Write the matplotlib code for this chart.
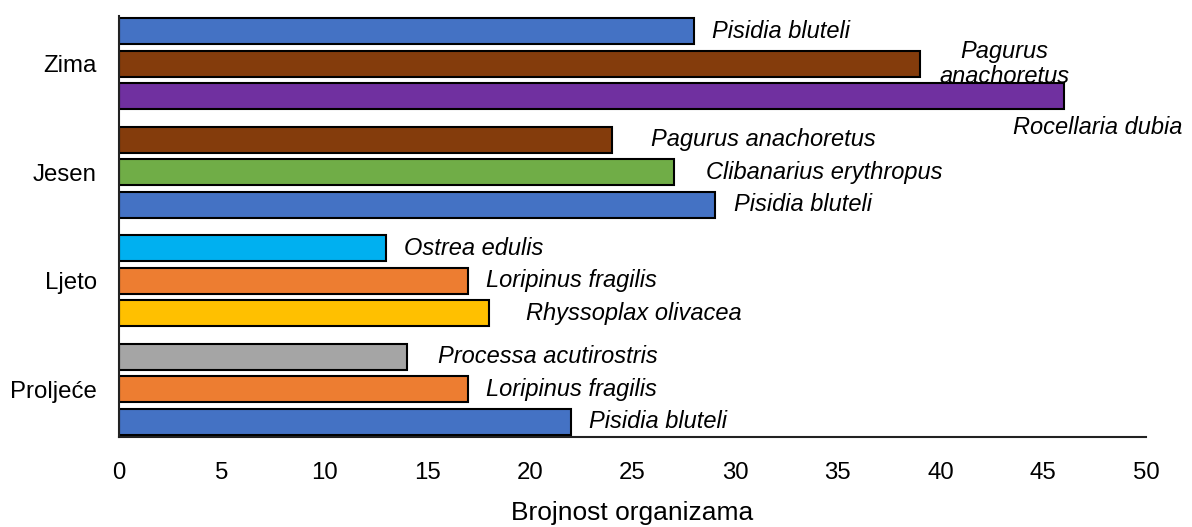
import matplotlib
matplotlib.use("Agg")
import matplotlib.pyplot as plt
import numpy as np

plt.rcParams['font.family'] = ['Liberation Sans', 'DejaVu Sans']

# Data (each season listed top-to-bottom)
seasons = ["Zima", "Jesen", "Ljeto", "Proljeće"]
species = [
    ["Pisidia bluteli", "Pagurus\nanachoretus", "Rocellaria dubia"],
    ["Pagurus anachoretus", "Clibanarius erythropus", "Pisidia bluteli"],
    ["Ostrea edulis", "Loripinus fragilis", "Rhyssoplax olivacea"],
    ["Processa acutirostris", "Loripinus fragilis", "Pisidia bluteli"],
]
values = [
    [28, 39, 46],
    [24, 27, 29],
    [13, 17, 18],
    [14, 17, 22],
]
colors = [
    ["#4472C4", "#843C0C", "#7030A0"],
    ["#843C0C", "#70AD47", "#4472C4"],
    ["#00B0F0", "#ED7D31", "#FFC000"],
    ["#A5A5A5", "#ED7D31", "#4472C4"],
]
x_ticks = [0, 5, 10, 15, 20, 25, 30, 35, 40, 45, 50]
x_label = "Brojnost organizama"

# Label placement (x in data units, alignment, vertical offset in bar slots)
label_x = [
    [28.85, 43.1, 47.65],
    [25.88, 28.56, 29.92],
    [13.89, 17.88, 19.83],
    [15.55, 17.88, 22.86],
]
label_ha = [
    ["left", "center", "center"],
    ["left", "left", "left"],
    ["left", "left", "left"],
    ["left", "left", "left"],
]
label_dy = [
    [0.0, 0.0, -0.29],
    [0.0, 0.0, 0.0],
    [0.0, 0.0, 0.0],
    [0.0, 0.0, 0.0],
]

fig = plt.figure(figsize=(11.92, 5.27), dpi=100)
ax = fig.add_axes([0.0998, 0.1708, 0.9614 - 0.0998, 0.9696 - 0.1708])

n = len(seasons)
step = 0.301
height = 0.24
centers = []
for i, s in enumerate(seasons):
    c = n - 1 - i
    centers.append(c)
    for j in range(3):
        y = c + step * (1 - j)
        ax.barh(y, values[i][j], height=height, color=colors[i][j],
                edgecolor="black", linewidth=1.5, zorder=2)
        ax.text(label_x[i][j], y + label_dy[i][j], species[i][j],
                ha=label_ha[i][j], va="center", style="italic",
                fontsize=17, color="black", zorder=3, linespacing=1.1)

ax.set_xlim(0, 50)
ax.set_ylim(-0.44, 3.44)
ax.set_xticks(x_ticks)
ax.set_xticklabels([str(t) for t in x_ticks])
ax.set_yticks(centers)
ax.set_yticklabels(seasons)
ax.tick_params(axis="both", length=0, labelsize=17.3)
ax.tick_params(axis="x", pad=18)
ax.tick_params(axis="y", pad=16)
ax.set_xlabel(x_label, fontsize=19, labelpad=12)

for side in ["top", "right"]:
    ax.spines[side].set_visible(False)
for side in ["left", "bottom"]:
    ax.spines[side].set_linewidth(1.5)
    ax.spines[side].set_color("#222222")

fig.savefig("out.png", dpi=100)
